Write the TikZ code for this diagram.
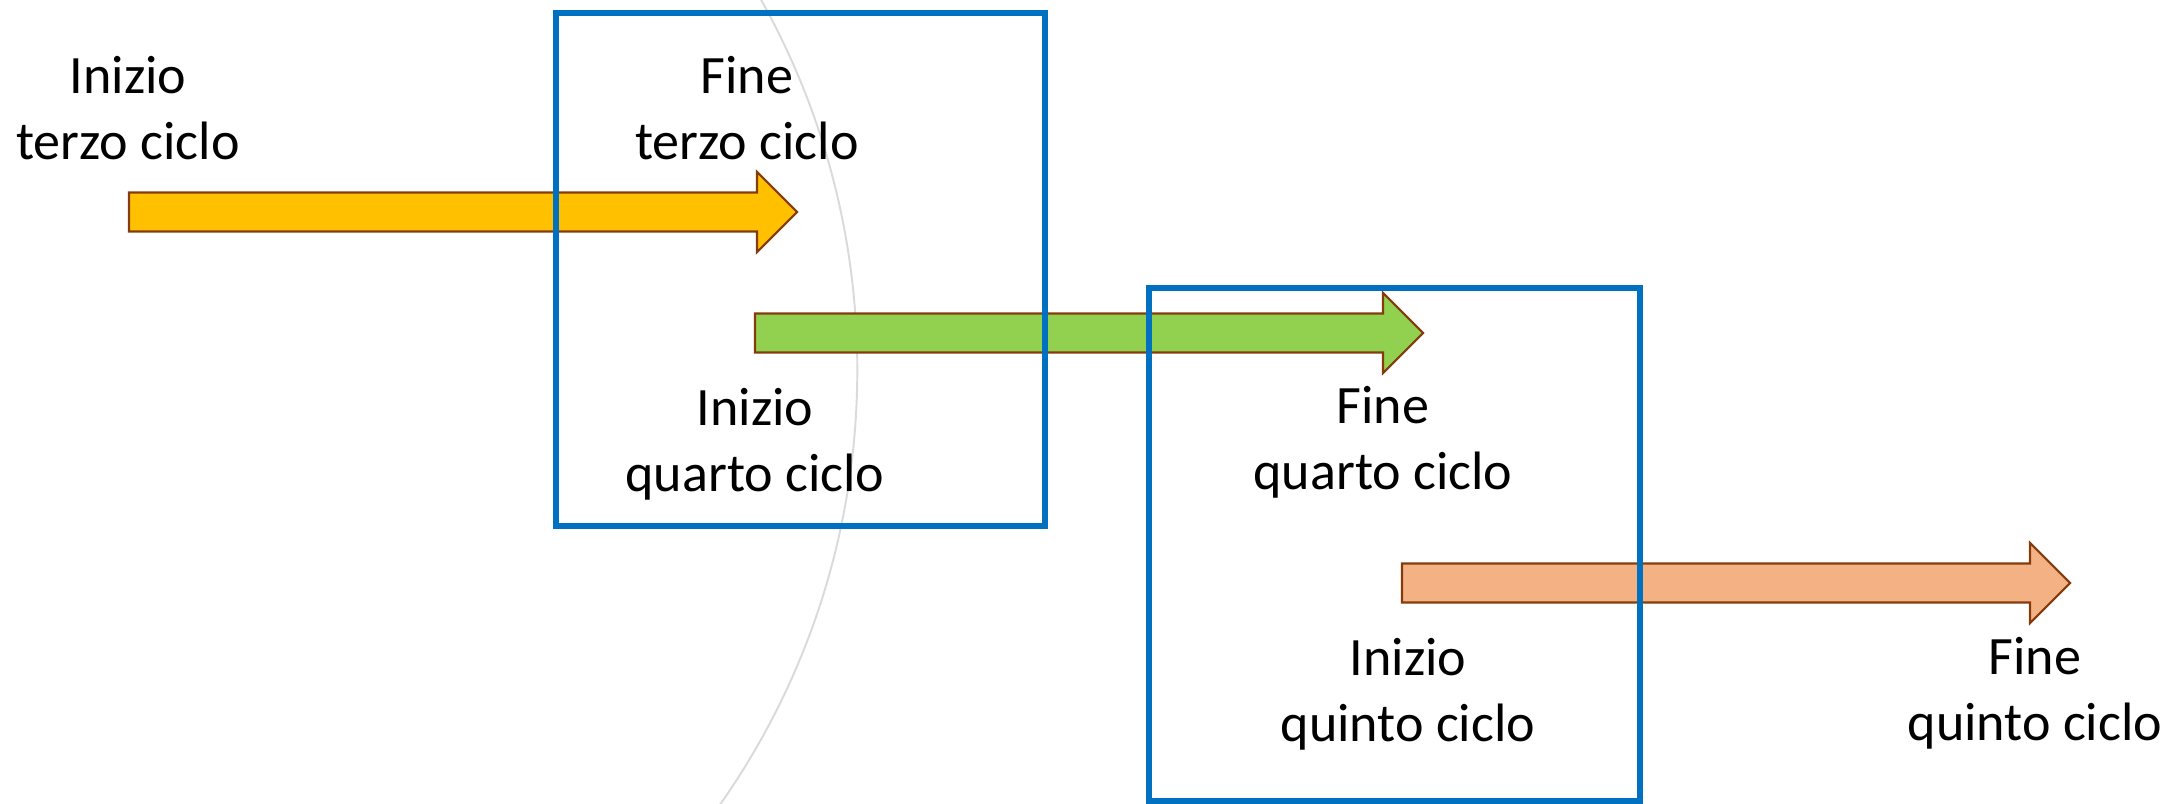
\documentclass[tikz,border=0pt]{standalone}
\usepackage{fontspec}
\setmainfont{Carlito}
\definecolor{boxblue}{HTML}{0070C0}
\definecolor{arrline}{HTML}{843C0C}
\definecolor{cycthree}{HTML}{FFC000}
\definecolor{cycfour}{HTML}{92D050}
\definecolor{cycfive}{HTML}{F4B183}
\definecolor{guide}{HTML}{DADADA}
\tikzset{
	lbl/.style={align=center, inner sep=0pt, font=\fontsize{15.37pt}{18.78pt}\selectfont},
	cyclebox/.style={draw=boxblue, line width=1.7pt},
	blockarr/.style={draw=arrline, line width=0.6pt, line join=miter},
}
\begin{document}
\begin{tikzpicture}[x=0.01cm, y=-0.01cm]
		\useasboundingbox (0,0) rectangle (2183,803);
		% faint guide arc
		\begin{scope}
			\clip (0,0) rectangle (2183,803);
			\draw[guide, line width=0.55pt] (99.7,369.6) circle[radius=757.6];
		\end{scope}
		% block arrows of the three cycles
		\foreach \x/\y/\c in {129/212/cycthree, 755/333/cycfour, 1402/583/cycfive}
			\filldraw[blockarr, fill=\c] (\x,\y-19.5) -- ++(628,0) -- ++(0,-20.5) -- ++(40,40)
				-- ++(-40,40) -- ++(0,-20.5) -- ++(-628,0) -- cycle;
		% overlap boxes
		\draw[cyclebox] (556,13) rectangle (1045,526);
		\draw[cyclebox] (1149,288) rectangle (1640,801);
		% labels
		\node[lbl] (inizioterzo) at (128,113) {\strut Inizio\\\strut terzo ciclo};
		\node[lbl] (fineterzo) at (747,113) {\strut Fine\\\strut terzo ciclo};
		\node[lbl] (inizioquarto) at (755,445) {\strut Inizio\\\strut quarto ciclo};
		\node[lbl] (finequarto) at (1383,443) {\strut Fine\\\strut quarto ciclo};
		\node[lbl] (inizioquinto) at (1408,695) {\strut Inizio\\\strut quinto ciclo};
		\node[lbl] (finequinto) at (2035,694) {\strut Fine\\\strut quinto ciclo};
\end{tikzpicture}
\end{document}
